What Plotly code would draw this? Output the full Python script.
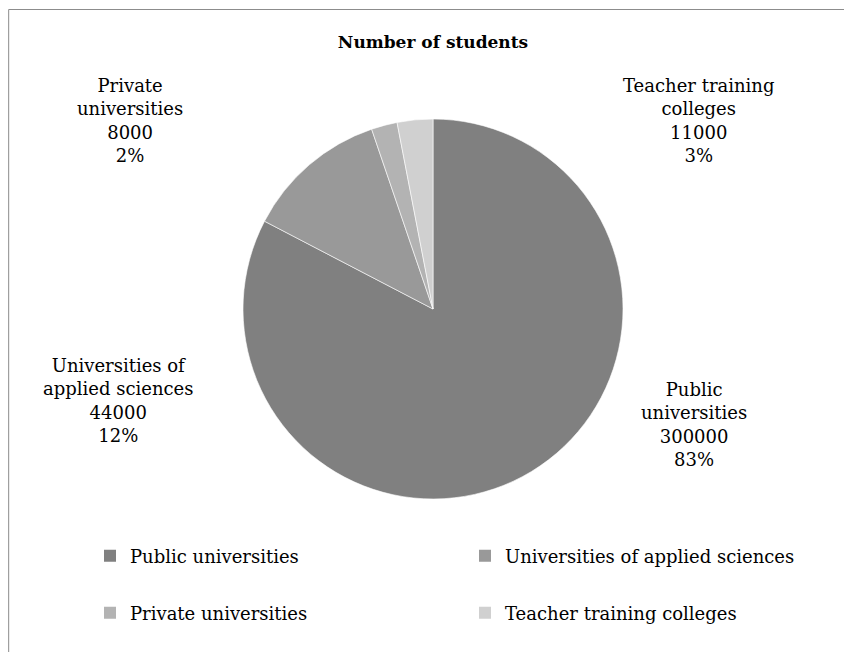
import plotly.graph_objects as go

categories = ["Public universities", "Universities of applied sciences",
              "Private universities", "Teacher training colleges"]
label_lines = ["Public<br>universities", "Universities of<br>applied sciences",
               "Private<br>universities", "Teacher training<br>colleges"]
values = [300000, 44000, 8000, 11000]
colors = ["#808080", "#999999", "#b3b3b3", "#d0d0d0"]

# page body has an 8px margin, so the figure is sized to fill the rest
OFF = 8
W, H = 852 - OFF, 652 - OFF
FONT = "DejaVu Serif"

def px(x):
    return (x - OFF) / W

def py(y):
    return 1 - (y - OFF) / H

total = sum(values)
pcts = [round(v / total * 100) for v in values]

fig = go.Figure()
fig.add_trace(go.Pie(
    labels=categories, values=values, sort=False, direction="clockwise",
    rotation=0, textinfo="none", showlegend=False,
    marker=dict(colors=colors, line=dict(color="rgba(255,255,255,0.6)", width=1)),
    domain=dict(x=[px(243), px(623)], y=[py(499), py(119)]),
))

# label positions (centre of each text block, in page pixels)
label_pos = [(694, 424), (118, 400), (130, 120), (698, 120)]
for name, v, p, (lx, ly) in zip(label_lines, values, pcts, label_pos):
    fig.add_annotation(x=px(lx), y=py(ly), xref="paper", yref="paper",
                       text=f"{name}<br>{v}<br>{p}%", showarrow=False,
                       xanchor="center", yanchor="middle", align="center",
                       font=dict(family=FONT, size=18, color="#000"))

# legend: one legend box per entry to reproduce the two-column layout
legend_pos = [(115, 556), (490, 556), (115, 613), (490, 613)]
legend_names = ["legend", "legend2", "legend3", "legend4"]
for cat, col, lg in zip(categories, colors, legend_names):
    fig.add_trace(go.Scatter(x=[None], y=[None], mode="markers", name=cat,
                             marker=dict(symbol="square", size=12, color=col),
                             legend=lg, showlegend=True, hoverinfo="skip"))

layout_legends = {}
for lg, (lx, ly) in zip(legend_names, legend_pos):
    layout_legends[lg] = dict(x=px(lx - 25), y=py(ly), xanchor="left", yanchor="middle",
                              xref="paper", yref="paper", bgcolor="rgba(0,0,0,0)",
                              font=dict(family=FONT, size=18, color="#000"))

fig.update_layout(
    width=W, height=H, margin=dict(l=0, r=0, t=0, b=0),
    paper_bgcolor="white", plot_bgcolor="white",
    title=dict(text="<b>Number of students</b>", x=px(433), y=py(42),
               xanchor="center", yanchor="middle",
               font=dict(family=FONT, size=17, color="#000")),
    xaxis=dict(visible=False), yaxis=dict(visible=False),
    shapes=[dict(type="rect", xref="paper", yref="paper",
                 x0=0.0008, y0=-0.05, x1=1.05, y1=py(9.5),
                 line=dict(color="#8c8c8c", width=1), fillcolor="rgba(0,0,0,0)", layer="below")],
    **layout_legends,
)

fig.write_html("out.html")
